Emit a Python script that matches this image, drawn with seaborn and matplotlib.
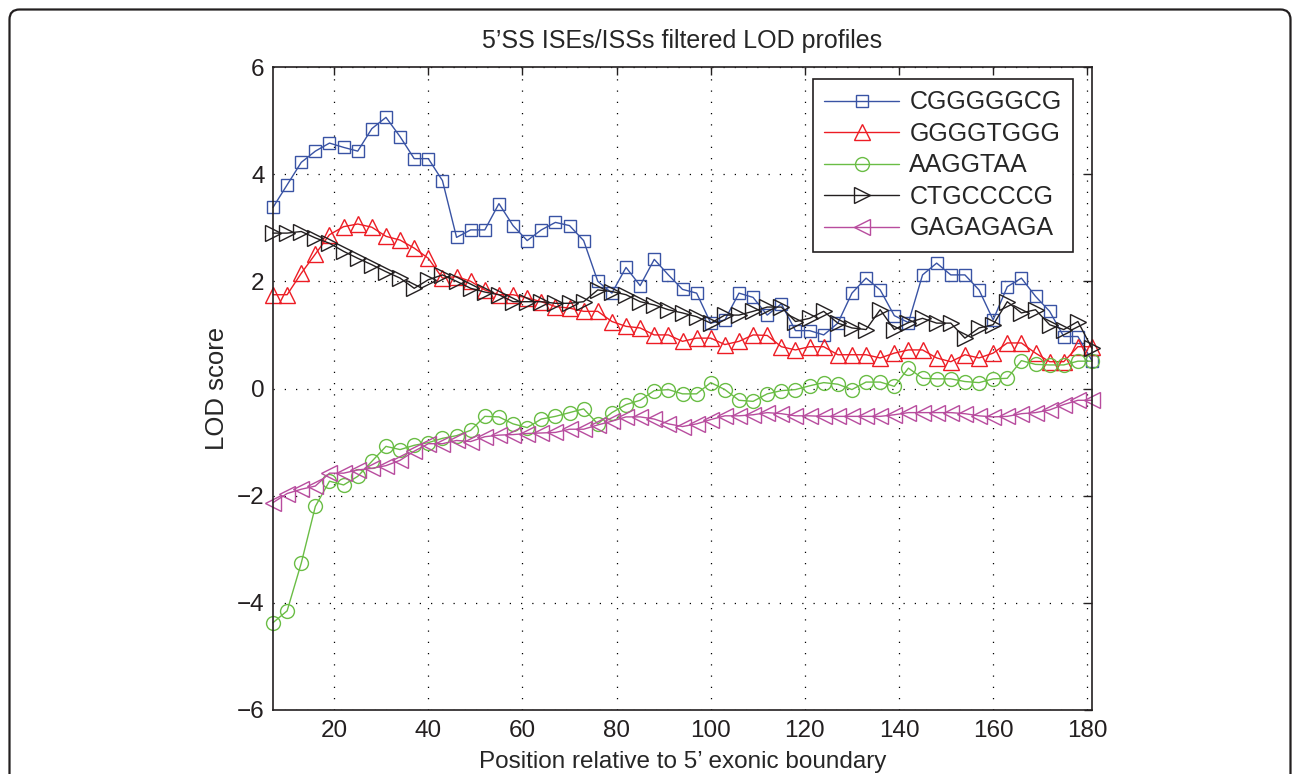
import numpy as np
import pandas as pd
import matplotlib
matplotlib.use("Agg")
import matplotlib.pyplot as plt
import seaborn as sns
from matplotlib.patches import FancyBboxPatch
from matplotlib.transforms import IdentityTransform

# positions (every 3 nt from the 5' exonic boundary)
positions = np.arange(7, 182, 3)

cgggggcg = [3.38, 3.80, 4.22, 4.43, 4.58, 4.50, 4.43, 4.85, 5.06, 4.70,
            4.29, 4.29, 3.88, 2.82, 2.96, 2.96, 3.45, 3.04, 2.76, 2.96,
            3.10, 3.04, 2.76, 2.00, 1.78, 2.26, 1.92, 2.41, 2.12, 1.85,
            1.78, 1.22, 1.28, 1.78, 1.70, 1.37, 1.58, 1.08, 1.08, 1.00,
            1.22, 1.78, 2.06, 1.84, 1.36, 1.23, 2.12, 2.34, 2.12, 2.12,
            1.84, 1.28, 1.90, 2.06, 1.72, 1.44, 0.97, 0.97, 0.52]
ggggtggg = [1.75, 1.75, 2.15, 2.51, 2.87, 3.02, 3.07, 3.01, 2.84, 2.77,
            2.62, 2.43, 2.06, 2.09, 2.00, 1.84, 1.75, 1.75, 1.69, 1.62,
            1.53, 1.50, 1.44, 1.44, 1.25, 1.16, 1.13, 1.00, 1.00, 0.88,
            0.94, 0.94, 0.82, 0.88, 1.00, 0.99, 0.78, 0.72, 0.78, 0.78,
            0.63, 0.63, 0.63, 0.57, 0.66, 0.72, 0.72, 0.57, 0.50, 0.63,
            0.57, 0.66, 0.85, 0.85, 0.66, 0.50, 0.50, 0.78, 0.78]
aaggtaa = [-4.37, -4.15, -3.26, -2.20, -1.73, -1.80, -1.64, -1.36, -1.08, -1.14,
           -1.06, -1.01, -0.93, -0.88, -0.78, -0.52, -0.53, -0.66, -0.73, -0.57,
           -0.52, -0.45, -0.38, -0.66, -0.45, -0.30, -0.22, -0.04, -0.02, -0.10,
           -0.10, 0.11, -0.02, -0.22, -0.24, -0.10, -0.04, -0.02, 0.05, 0.11,
           0.08, -0.02, 0.12, 0.12, 0.04, 0.38, 0.19, 0.18, 0.18, 0.13,
           0.11, 0.18, 0.19, 0.52, 0.45, 0.44, 0.44, 0.51, 0.51]
ctgccccg = [2.90, 2.90, 2.93, 2.81, 2.71, 2.56, 2.43, 2.31, 2.18, 2.06,
            1.87, 2.03, 2.12, 2.00, 1.87, 1.80, 1.75, 1.62, 1.62, 1.62,
            1.59, 1.59, 1.62, 1.84, 1.81, 1.75, 1.62, 1.56, 1.47, 1.41,
            1.34, 1.22, 1.37, 1.37, 1.44, 1.52, 1.52, 1.25, 1.31, 1.44,
            1.22, 1.13, 1.10, 1.47, 1.10, 1.23, 1.31, 1.22, 1.22, 0.94,
            1.13, 1.19, 1.62, 1.41, 1.47, 1.19, 1.10, 1.25, 0.75]
gagagaga = [-2.13, -1.96, -1.88, -1.82, -1.58, -1.58, -1.52, -1.49, -1.44, -1.34,
            -1.17, -1.03, -1.03, -0.97, -0.99, -0.90, -0.87, -0.86, -0.84, -0.83,
            -0.82, -0.76, -0.76, -0.68, -0.61, -0.53, -0.53, -0.57, -0.66, -0.71,
            -0.66, -0.58, -0.51, -0.51, -0.49, -0.45, -0.47, -0.51, -0.51, -0.52,
            -0.52, -0.52, -0.52, -0.52, -0.49, -0.45, -0.45, -0.45, -0.45, -0.47,
            -0.51, -0.53, -0.52, -0.47, -0.45, -0.40, -0.30, -0.22, -0.22]

motifs = ["CGGGGGCG", "GGGGTGGG", "AAGGTAA", "CTGCCCCG", "GAGAGAGA"]
colors = ["#3953a4", "#ed1c24", "#6abd45", "#231f20", "#b84c9e"]
markers = ["s", "^", "o", ">", "<"]
msizes = [9, 11.5, 10, 11, 11]

df = pd.DataFrame({"pos": positions, "CGGGGGCG": cgggggcg, "GGGGTGGG": ggggtggg,
                   "AAGGTAA": aaggtaa, "CTGCCCCG": ctgccccg, "GAGAGAGA": gagagaga})

sns.set_theme(style="white")
plt.rcParams["font.family"] = ["Liberation Sans", "DejaVu Sans"]
plt.rcParams["axes.unicode_minus"] = True

fig = plt.figure(figsize=(12.92, 7.74), dpi=100)
ax = fig.add_axes([273 / 1292, 1 - 710 / 774, 819 / 1292, 643 / 774])

for name, c, m, ms in zip(motifs, colors, markers, msizes):
    sns.lineplot(data=df, x="pos", y=name, ax=ax, color=c, marker=m, markersize=ms,
                 mfc="none", mec=c, mew=1.0, lw=1.0, label=name, clip_on=False)

ax.set_xlim(7, 181)
ax.set_ylim(-6, 6)
ax.set_xticks(range(20, 181, 20))
ax.set_yticks(range(-6, 7, 2))
ax.grid(True, color="black", linestyle=(0, (1, 8)), linewidth=0.9)
ax.tick_params(direction="in", length=6, width=1, top=True, right=True,
               labelsize=17.5, colors="#231f20")
ax.tick_params(axis="y", pad=6)
ax.tick_params(axis="x", pad=7)
for s in ax.spines.values():
    s.set_linewidth(1.2)
    s.set_color("#231f20")

ax.set_title("5\u2019SS ISEs/ISSs filtered LOD profiles", fontsize=18, pad=14)
ax.set_xlabel("Position relative to 5\u2019 exonic boundary", fontsize=17.5)
ax.xaxis.label.set_va("bottom")
ax.xaxis.set_label_coords(0.5, (710 - 773) / 643)
ax.set_ylabel("LOD score", fontsize=18.5, labelpad=6)

leg = ax.legend(loc="upper right", bbox_to_anchor=(0.9765, 0.981), borderaxespad=0,
                fontsize=18, handlelength=3.0, labelspacing=0.3, handletextpad=0.4,
                fancybox=False, framealpha=1, edgecolor="#231f20", borderpad=0.45)
leg.get_frame().set_linewidth(1.2)

# rounded outer frame of the figure panel
frame = FancyBboxPatch((9.5, -60), 1281, 774 - 9.5 + 60, boxstyle="round,pad=0,rounding_size=10",
                       transform=IdentityTransform(), fill=False, edgecolor="#231f20", lw=1.6)
fig.add_artist(frame)

fig.savefig("out.png", dpi=100)
